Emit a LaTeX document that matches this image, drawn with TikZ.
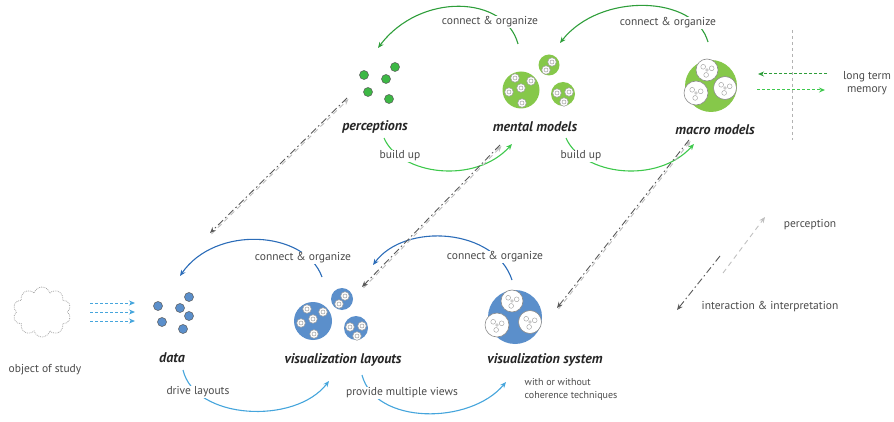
\documentclass[tikz,border=0pt]{standalone}
\usepackage{fontspec}
\setmainfont{PT Sans}
\usepackage{tikz}
\usetikzlibrary{arrows.meta,positioning,shapes.symbols}

\definecolor{gdark}{HTML}{2E9E3A}
\definecolor{glight}{HTML}{3EC84C}
\definecolor{gfill}{HTML}{86C84A}
\definecolor{gdot}{HTML}{3DB845}
\definecolor{bdark}{HTML}{2B6CB8}
\definecolor{blight}{HTML}{45A5DC}
\definecolor{bfill}{HTML}{5B8FCB}
\definecolor{txt}{HTML}{4A4A4A}

% small white bubble with a ring
\newcommand{\bubble}[2]{%
  \filldraw[draw=black!40,fill=white,line width=0.5pt] (#1,#2) circle (4.3pt);
  \draw[black!40,line width=0.5pt] (#1,#2) circle (2pt);}
% white pod holding tiny bubbles
\newcommand{\pod}[3]{%
  \filldraw[draw=black!45,fill=white,line width=0.6pt] (#1,#2) circle (#3pt);
  \foreach \a in {20,140,260} {\draw[black!40,line width=0.4pt,shift={(#1,#2)}] (\a:5pt) circle (2.4pt);}
  \draw[black!40,line width=0.4pt] (#1,#2) circle (1.4pt);}

\begin{document}
\begin{tikzpicture}[x=1pt,y=-1pt,
  every node/.style={font=\fontsize{11.5}{13}\selectfont,text=txt},
  ttl/.style={font=\fontsize{14}{16}\selectfont\bfseries\itshape,text=black!85},
  tip/.style={-{Stealth[length=6pt,width=5pt]}},
  onarc/.style={fill=white,inner sep=1pt},
  gdotst/.style={circle,draw=black!65,fill=gdot,minimum size=9pt,inner sep=0pt,line width=0.5pt},
  bdotst/.style={circle,draw=black!65,fill=bfill,minimum size=9pt,inner sep=0pt,line width=0.5pt},
  blob/.style={circle,inner sep=0pt},
  dark/.style={tip,draw=black!65,dash pattern=on 7pt off 3pt on 1.5pt off 3pt,line width=0.9pt},
  light/.style={tip,draw=black!25,dash pattern=on 5pt off 4pt,line width=0.9pt}]
  \useasboundingbox (0,0) rectangle (894,422);

  % ---- top row (green) ----
  \foreach \x/\y [count=\i] in {364/75, 395/67, 386/79, 368/92, 389/99}
    \node[gdotst] (p\i) at (\x,\y) {};
  \node[ttl] (pc) at (375,127) {perceptions};

  \node[blob,fill=gfill,minimum size=37pt] (mmA) at (521,90) {};
  \node[blob,fill=gfill,minimum size=21pt] (mmB) at (549,65) {};
  \node[blob,fill=gfill,minimum size=24pt] (mmC) at (563,94) {};
  \foreach \x/\y in {515/78, 531/81, 521/88, 509/92, 522/103, 552/62, 546/70, 569/92, 557/93, 564/102}
    {\bubble{\x}{\y}}
  \node[ttl] (mm) at (535,127) {mental models};

  \node[blob,fill=gfill,minimum size=52pt] (ma) at (711,86) {};
  \pod{707}{70}{11} \pod{696}{93}{12} \pod{725}{88}{11.5}
  \node[ttl] (mc) at (715,130) {macro models};

  % long term memory
  \draw[black!30,dashed,line width=0.8pt] (792,30) coordinate (vt) -- (792,140) coordinate (vb);
  \node[align=center] (ltm) at (867,83) {long term\\memory};
  \coordinate (m1a) at (827,74); \coordinate (m1b) at (758,74);
  \coordinate (m2a) at (757,90); \coordinate (m2b) at (825,90);
  \draw[tip,gdark,densely dashed,line width=1pt] (m1a) -- (m1b);
  \draw[tip,glight,densely dashed,line width=1pt] (m2a) -- (m2b);

  % green arcs
  \coordinate (g1s) at (518,44); \coordinate (g1e) at (378,48);
  \coordinate (g2s) at (708,42); \coordinate (g2e) at (560,43);
  \draw[tip,gdark,line width=1.1pt] (g1s) .. controls (505,-5) and (420,-8) .. (g1e);
  \draw[tip,gdark,line width=1.1pt] (g2s) .. controls (695,-5) and (600,-8) .. (g2e);
  \node[onarc] (c1) at (490,22) {connect \& organize};
  \node[onarc] (c2) at (668,23) {connect \& organize};

  \coordinate (u1s) at (384,138); \coordinate (u1e) at (512,144);
  \coordinate (u2s) at (566,138); \coordinate (u2e) at (694,144);
  \draw[tip,glight,line width=1.1pt] (u1s) .. controls (400,175) and (475,185) .. (u1e);
  \draw[tip,glight,line width=1.1pt] (u2s) .. controls (582,175) and (657,185) .. (u2e);
  \node[onarc] (bu1) at (400,156) {build up};
  \node[onarc] (bu2) at (581,156) {build up};

  % ---- bottom row (blue) ----
  \node[cloud,cloud puffs=10,draw=black!35,densely dotted,line width=0.8pt,
        minimum width=58pt,minimum height=50pt,aspect=1.2] (obj) at (42,312) {};
  \node (os) at (45,370) {object of study};
  \foreach \y [count=\i] in {303,312,321} {
    \coordinate (oa\i) at (90,\y); \coordinate (ob\i) at (135,\y);
    \draw[tip,blight,densely dashed,line width=0.9pt] (oa\i) -- (ob\i);
  }

  \foreach \x/\y [count=\i] in {158/306, 189/297, 180/308, 189/316, 162/322, 183/329}
    \node[bdotst] (d\i) at (\x,\y) {};
  \node[ttl] (dt) at (172,358) {data};

  \node[blob,fill=bfill,minimum size=38pt] (vlA) at (313,321) {};
  \node[blob,fill=bfill,minimum size=22pt] (vlB) at (342,299) {};
  \node[blob,fill=bfill,minimum size=24pt] (vlC) at (356,328) {};
  \foreach \x/\y in {307/309, 323/312, 313/319, 301/323, 314/334, 345/296, 339/304, 362/326, 350/327, 357/336}
    {\bubble{\x}{\y}}
  \node[ttl] (vl) at (343,360) {visualization layouts};

  \node[blob,fill=bfill,minimum size=54pt] (vs) at (515,317) {};
  \pod{512}{301}{11} \pod{497}{325}{12} \pod{530}{322}{11.5}
  \node[ttl] (vsy) at (545,360) {visualization system};
  \node[align=left,font=\fontsize{10}{13}\selectfont] (coh) at (571,389) {with or without\\coherence techniques};

  % blue arcs
  \coordinate (k1s) at (322,277); \coordinate (k1e) at (180,276);
  \coordinate (k2s) at (512,280); \coordinate (k2e) at (373,265);
  \draw[tip,bdark,line width=1.1pt] (k1s) .. controls (305,230) and (215,225) .. (k1e);
  \draw[tip,bdark,line width=1.1pt] (k2s) .. controls (495,228) and (405,222) .. (k2e);
  \node[onarc] (c3) at (303,258) {connect \& organize};
  \node[onarc] (c4) at (495,257) {connect \& organize};

  \coordinate (v1s) at (183,370); \coordinate (v1e) at (329,381);
  \coordinate (v2s) at (362,375); \coordinate (v2e) at (506,382);
  \draw[tip,blight,line width=1.1pt] (v1s) .. controls (195,420) and (295,425) .. (v1e);
  \draw[tip,blight,line width=1.1pt] (v2s) .. controls (375,425) and (470,425) .. (v2e);
  \node[onarc] (dl) at (198,392) {drive layouts};
  \node[onarc] (pv) at (402,393) {provide multiple views};

  % ---- perception / interaction lines ----
  \foreach \t/\tx/\ty/\b/\bx/\by in {t1/347/98/b1/210/233, t2/500/145/b2/362/287, t3/689/140/b3/557/308} {
    \coordinate (\t) at (\tx,\ty); \coordinate (\b) at (\bx,\by);
    \draw[light] ([shift={(1.5,1)}]\b) -- ([shift={(1.5,1)}]\t);
    \draw[dark] (\t) -- (\b);
  }

  % legend
  \coordinate (la) at (723,273); \coordinate (lb) at (765,217);
  \coordinate (ia) at (720,256); \coordinate (ib) at (677,310);
  \draw[light] (la) -- (lb);
  \draw[dark] (ia) -- (ib);
  \node (lp) at (810,225) {perception};
  \node (li) at (770,307) {interaction \& interpretation};
\end{tikzpicture}
\end{document}
